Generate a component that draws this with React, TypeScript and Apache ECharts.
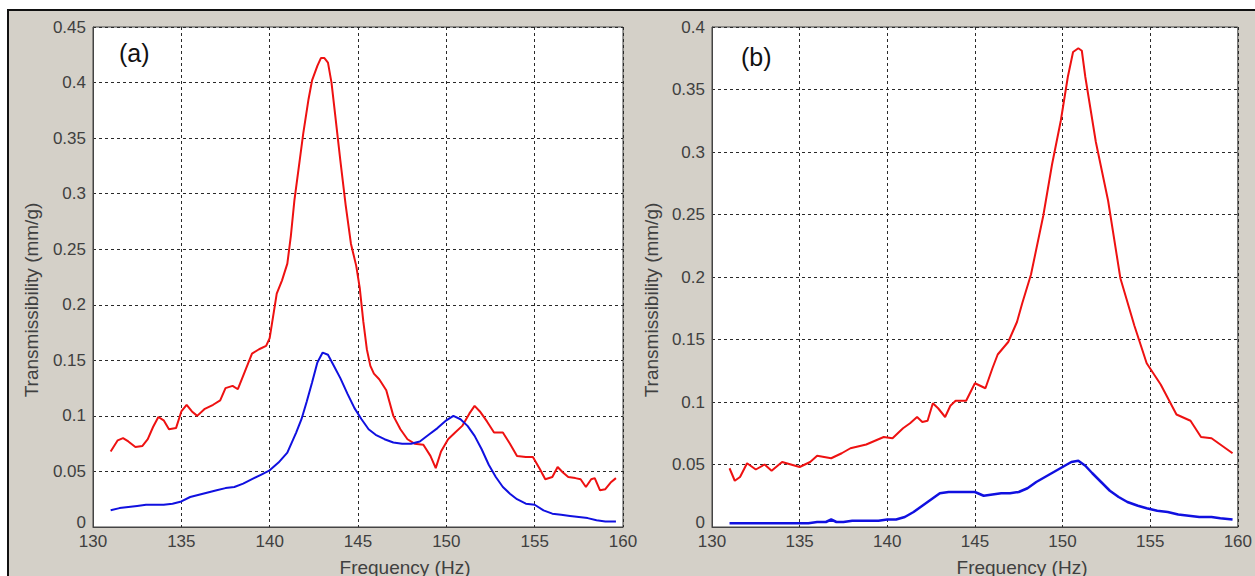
import React, { useEffect, useRef } from "react";
import * as echarts from "echarts";

// ---- Panel (a) ----
const redAFreq = [131.0,131.4,131.7,132.0,132.4,132.8,133.1,133.4,133.7,134.0,134.3,134.7,135.0,135.3,135.6,135.9,136.3,136.8,137.2,137.5,137.9,138.2,138.6,139.0,139.4,139.8,140.0,140.2,140.4,140.7,141.0,141.2,141.4,141.7,141.9,142.2,142.4,142.7,142.9,143.1,143.3,143.5,143.7,144.0,144.3,144.6,144.9,145.1,145.3,145.5,145.7,145.9,146.2,146.6,147.0,147.4,147.8,148.2,148.7,149.1,149.4,149.7,150.1,150.5,150.9,151.3,151.6,151.9,152.3,152.7,153.2,153.6,154.0,154.5,154.9,155.3,155.6,156.0,156.3,156.6,156.9,157.3,157.6,157.9,158.2,158.4,158.7,159.0,159.3,159.6];
const redAVal = [0.068,0.078,0.080,0.077,0.072,0.073,0.079,0.090,0.099,0.096,0.088,0.089,0.104,0.110,0.104,0.100,0.106,0.110,0.114,0.125,0.127,0.124,0.140,0.156,0.160,0.163,0.170,0.190,0.210,0.222,0.237,0.262,0.294,0.330,0.354,0.385,0.402,0.415,0.422,0.422,0.418,0.400,0.372,0.330,0.290,0.255,0.235,0.215,0.185,0.160,0.145,0.138,0.133,0.123,0.100,0.088,0.079,0.075,0.074,0.064,0.053,0.068,0.079,0.085,0.091,0.102,0.109,0.104,0.095,0.085,0.085,0.075,0.064,0.063,0.063,0.052,0.043,0.045,0.054,0.049,0.045,0.044,0.043,0.036,0.043,0.044,0.033,0.034,0.040,0.044];

const blueAFreq = [131.0,131.5,132.0,132.5,133.0,133.5,134.0,134.5,135.0,135.5,136.0,136.5,137.0,137.5,138.0,138.5,139.0,139.5,140.0,140.5,141.0,141.5,141.8,142.1,142.4,142.7,143.0,143.3,143.6,144.0,144.4,144.8,145.2,145.6,146.0,146.5,147.0,147.5,148.0,148.5,149.0,149.5,150.0,150.4,150.8,151.2,151.6,152.0,152.4,152.8,153.2,153.6,154.0,154.5,155.0,155.5,156.0,156.5,157.0,157.5,158.0,158.5,159.0,159.6];
const blueAVal = [0.015,0.017,0.018,0.019,0.020,0.020,0.020,0.021,0.023,0.027,0.029,0.031,0.033,0.035,0.036,0.039,0.043,0.047,0.051,0.058,0.067,0.085,0.097,0.113,0.130,0.148,0.157,0.155,0.146,0.134,0.120,0.107,0.097,0.088,0.083,0.079,0.076,0.075,0.075,0.077,0.083,0.089,0.096,0.100,0.097,0.091,0.082,0.070,0.056,0.045,0.036,0.030,0.025,0.021,0.020,0.015,0.012,0.011,0.010,0.009,0.008,0.006,0.005,0.005];

// ---- Panel (b) ----
const redBFreq = [131.0,131.3,131.6,132.0,132.5,133.0,133.4,134.0,134.5,135.0,135.6,136.0,136.8,137.4,137.9,138.8,139.3,139.8,140.3,140.9,141.3,141.7,142.0,142.3,142.6,142.9,143.3,143.6,143.9,144.5,145.0,145.3,145.6,146.0,146.3,146.9,147.4,147.7,148.2,148.9,149.4,149.9,150.3,150.6,150.9,151.1,151.3,151.9,152.6,153.3,154.1,154.8,155.6,156.5,157.3,157.9,158.5,159.2,159.7];
const redBVal = [0.047,0.037,0.040,0.051,0.046,0.050,0.045,0.052,0.050,0.048,0.052,0.057,0.055,0.059,0.063,0.066,0.069,0.072,0.071,0.079,0.083,0.088,0.084,0.085,0.099,0.095,0.088,0.097,0.101,0.101,0.115,0.113,0.111,0.127,0.138,0.148,0.164,0.179,0.202,0.249,0.290,0.325,0.360,0.380,0.383,0.381,0.360,0.308,0.261,0.199,0.161,0.131,0.114,0.090,0.085,0.072,0.071,0.064,0.059];

const blueBFreq = [131.0,132.0,133.0,134.0,135.0,135.5,136.0,136.5,136.8,137.1,137.5,138.0,138.5,139.0,139.5,140.0,140.5,141.0,141.5,142.0,142.5,143.0,143.5,144.0,144.5,145.0,145.5,146.0,146.5,147.0,147.5,148.0,148.5,149.0,149.5,150.0,150.5,150.9,151.3,151.7,152.2,152.7,153.2,153.7,154.3,154.8,155.4,156.0,156.6,157.2,157.8,158.5,159.0,159.7];
const blueBVal = [0.003,0.003,0.003,0.003,0.003,0.003,0.004,0.004,0.006,0.004,0.004,0.005,0.005,0.005,0.005,0.006,0.006,0.008,0.012,0.017,0.022,0.027,0.028,0.028,0.028,0.028,0.025,0.026,0.027,0.027,0.028,0.031,0.036,0.040,0.044,0.048,0.052,0.053,0.049,0.043,0.036,0.029,0.024,0.020,0.017,0.015,0.013,0.012,0.010,0.009,0.008,0.008,0.007,0.006];

const xTicks = { min: 130, max: 160, interval: 5 };
const yMaxA = 0.45;
const yMaxB = 0.4;
const yInterval = 0.05;
const panelLabels = ["(a)", "(b)"];
const xTitle = "Frequency (Hz)";
const yTitle = "Transmissibility (mm/g)";

const zip = (xs: number[], ys: number[]) => xs.map((x, i) => [x, ys[i]]);

const FONT = "Liberation Sans, Arial, sans-serif";
const LABEL_COLOR = "#404040";
const GRID_LINE = { show: true, lineStyle: { color: "#2a2a2a", width: 1, type: [3, 3] as any } };

function xAxis(gridIndex: number) {
  return {
    type: "value",
    gridIndex,
    min: xTicks.min,
    max: xTicks.max,
    interval: xTicks.interval,
    axisLine: { show: true, onZero: false, lineStyle: { color: "#444", width: 1 } },
    axisTick: { show: false },
    axisLabel: { fontFamily: FONT, fontSize: 17, lineHeight: 17, color: LABEL_COLOR, margin: 6 },
    splitLine: GRID_LINE,
  };
}

function yAxis(gridIndex: number, max: number) {
  return {
    type: "value",
    gridIndex,
    min: 0,
    max,
    interval: yInterval,
    axisLine: { show: true, lineStyle: { color: "#444", width: 1 } },
    axisTick: { show: false },
    axisLabel: {
      fontFamily: FONT,
      fontSize: 17,
      lineHeight: 17,
      color: LABEL_COLOR,
      margin: 7,
      formatter: (v: number) => (v === 0 ? "{z|0}" : String(Math.round(v * 100) / 100)),
      rich: {
        z: { fontFamily: FONT, fontSize: 17, lineHeight: 17, color: LABEL_COLOR, padding: [0, 0, 10, 0] },
      },
    },
    splitLine: GRID_LINE,
  };
}

function line(name: string, data: number[][], color: string, idx: number, width: number) {
  return {
    type: "line",
    name,
    xAxisIndex: idx,
    yAxisIndex: idx,
    data,
    showSymbol: false,
    symbol: "none",
    lineStyle: { color, width },
    itemStyle: { color },
  };
}

function titleText(text: string, x: number, y: number, rotation: number) {
  return {
    type: "text",
    x,
    y,
    rotation,
    z: 100,
    silent: true,
    style: {
      text,
      fontFamily: FONT,
      fontSize: 19,
      fill: LABEL_COLOR,
      align: "center",
      verticalAlign: "middle",
    },
  };
}

export default function App() {
  const ref = useRef<HTMLDivElement>(null);
  useEffect(() => {
    if (!ref.current) return;
    const chart = echarts.init(ref.current, null, { renderer: "svg" });
    chart.setOption({
      animation: false,
      backgroundColor: "#ffffff",
      graphic: [
        {
          type: "rect",
          z: -10,
          silent: true,
          shape: { x: 8, y: 10, width: 1260, height: 580 },
          style: { fill: "#d4d0c8", stroke: "#111", lineWidth: 2 },
        },
        {
          type: "text",
          left: 119,
          top: 40,
          z: 100,
          style: { text: panelLabels[0], fontFamily: FONT, fontSize: 25, fill: "#111" },
        },
        {
          type: "text",
          left: 741,
          top: 44,
          z: 100,
          style: { text: panelLabels[1], fontFamily: FONT, fontSize: 25, fill: "#111" },
        },
        titleText(xTitle, 405, 567, 0),
        titleText(xTitle, 1022, 567, 0),
        titleText(yTitle, 31, 300, Math.PI / 2),
        titleText(yTitle, 651, 300, Math.PI / 2),
      ],
      grid: [
        { left: 93, top: 27, width: 530, height: 500, show: true, backgroundColor: "#ffffff", borderColor: "#444", borderWidth: 1 },
        { left: 712, top: 27, width: 534, height: 500, show: true, backgroundColor: "#ffffff", borderColor: "#444", borderWidth: 1 },
      ],
      xAxis: [xAxis(0), xAxis(1)],
      yAxis: [yAxis(0, yMaxA), yAxis(1, yMaxB)],
      series: [
        line("Red (a)", zip(redAFreq, redAVal), "#ee1111", 0, 2),
        line("Blue (a)", zip(blueAFreq, blueAVal), "#1010e0", 0, 2),
        line("Red (b)", zip(redBFreq, redBVal), "#ee1111", 1, 2),
        line("Blue (b)", zip(blueBFreq, blueBVal), "#1010e0", 1, 2.5),
      ],
    });
    return () => chart.dispose();
  }, []);
  return <div ref={ref} style={{ position: "fixed", left: 0, top: 0, width: 1255, height: 576 }} />;
}
